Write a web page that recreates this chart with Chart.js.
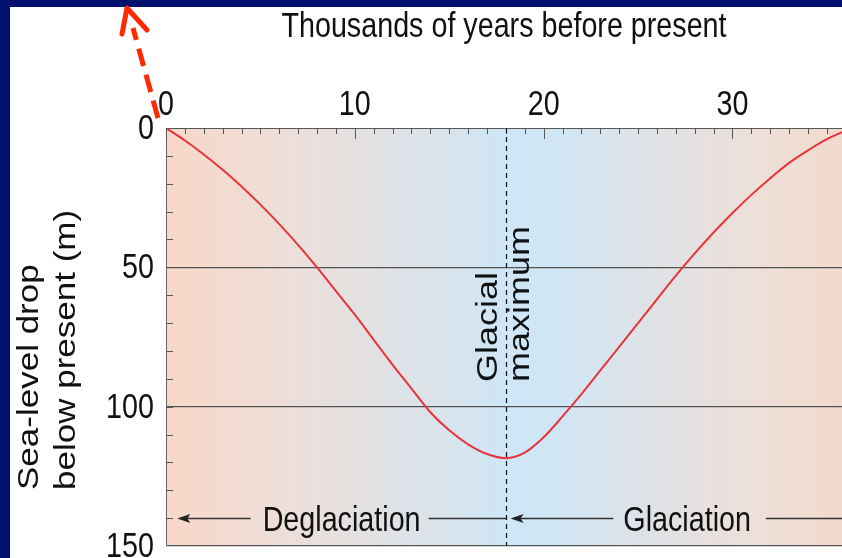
<!DOCTYPE html>
<html>
<head>
<meta charset="utf-8">
<script src="https://cdn.jsdelivr.net/npm/chart.js@4.4.1/dist/chart.umd.min.js"></script>
<style>
  html, body { margin: 0; padding: 0; background: #00106e; }
  #wrap { width: 842px; height: 558px; }
</style>
</head>
<body>
<div id="wrap"><canvas id="myChart" width="842" height="558"></canvas></div>
<script>
// thousands of years before present
const years = [0, 1, 2, 3, 4, 5, 6, 7, 8, 9, 10, 11, 12, 13, 14, 15, 16, 17, 18,
  19, 20, 21, 22, 23, 24, 25, 26, 27, 28, 29, 30, 31, 32, 33, 34, 35, 35.8];
// sea-level drop below present (m)
const seaDrop = [0, 4.5, 9.5, 15, 21, 27.5, 34.5, 42, 50, 58.5, 67, 76, 85, 93.5,
  102, 108.5, 113.5, 117, 118.5, 116.5, 111, 103.5, 95.5, 87, 78.5, 70, 61.5, 53,
  45, 37.5, 30.5, 24, 18, 12.5, 8, 4, 1.5];

const xTicks = [0, 10, 20, 30];
const yTicks = [0, 50, 100, 150];
const glacialMax = 18;
const arrowLevel = 140;

const fontFamily = '"Liberation Sans", Arial, sans-serif';
const squash = 0.82; // lettering in the original slide is squeezed horizontally

function flatText(ctx, text, x, y, size, align) {
  ctx.save();
  ctx.translate(x, y);
  ctx.scale(squash, 1);
  ctx.font = size + 'px ' + fontFamily;
  ctx.textAlign = align;
  ctx.textBaseline = 'alphabetic';
  ctx.fillStyle = '#111';
  ctx.fillText(text, 0, 0);
  ctx.restore();
}

function rotatedText(ctx, text, x, y, size) {
  ctx.save();
  ctx.translate(x, y);
  ctx.scale(squash, 1);
  ctx.rotate(-Math.PI / 2);
  ctx.font = size + 'px ' + fontFamily;
  ctx.textAlign = 'left';
  ctx.textBaseline = 'alphabetic';
  ctx.fillStyle = '#111';
  ctx.fillText(text, 0, 0);
  ctx.restore();
}

function arrowHead(ctx, x, y) {
  ctx.beginPath();
  ctx.moveTo(x, y);
  ctx.lineTo(x + 13, y - 4.5);
  ctx.lineTo(x + 10, y);
  ctx.lineTo(x + 13, y + 4.5);
  ctx.closePath();
  ctx.fill();
}

const slidePlugin = {
  id: 'slide',
  beforeDraw(chart) {
    const ctx = chart.ctx;
    const a = chart.chartArea;
    ctx.save();
    ctx.fillStyle = '#00106e';
    ctx.fillRect(0, 0, chart.width, chart.height);
    ctx.fillStyle = '#ffffff';
    ctx.fillRect(10, 7, chart.width - 10, chart.height - 7);
    const g = ctx.createLinearGradient(a.left, 0, a.right, 0);
    g.addColorStop(0, 'rgb(248,216,200)');
    g.addColorStop(0.2, 'rgb(236,223,219)');
    g.addColorStop(0.42, 'rgb(216,228,236)');
    g.addColorStop(0.5, 'rgb(206,230,246)');
    g.addColorStop(0.58, 'rgb(208,230,245)');
    g.addColorStop(0.72, 'rgb(224,226,230)');
    g.addColorStop(0.88, 'rgb(238,223,216)');
    g.addColorStop(1, 'rgb(242,218,204)');
    ctx.fillStyle = g;
    ctx.fillRect(a.left, a.top, a.right - a.left, a.bottom - a.top);
    ctx.restore();
  },
  afterDraw(chart) {
    const ctx = chart.ctx;
    const a = chart.chartArea;
    const xs = chart.scales.x;
    const ys = chart.scales.y;
    ctx.save();

    // inward tick marks
    ctx.strokeStyle = '#555';
    ctx.lineWidth = 1;
    ctx.beginPath();
    for (let v = 0; v <= xs.max; v += 1) {
      const px = Math.round(xs.getPixelForValue(v)) + 0.5;
      const len = v % 10 === 0 ? 11 : 6;
      ctx.moveTo(px, a.top);
      ctx.lineTo(px, a.top + len);
    }
    for (let v = 10; v < ys.max; v += 10) {
      const py = Math.round(ys.getPixelForValue(v)) + 0.5;
      ctx.moveTo(a.left, py);
      ctx.lineTo(a.left + 7, py);
    }
    ctx.stroke();

    // tick labels and axis titles
    xs.ticks.forEach(t => {
      flatText(ctx, String(t.value), xs.getPixelForValue(t.value), a.top - 13, 35, 'center');
    });
    ys.ticks.forEach(t => {
      flatText(ctx, String(t.value), a.left - 12, ys.getPixelForValue(t.value) + 11, 35, 'right');
    });
    flatText(ctx, 'Thousands of years before present', (a.left + a.right) / 2, 37, 35, 'center');
    rotatedText(ctx, 'Sea-level drop', 38, 490, 35);
    rotatedText(ctx, 'below present (m)', 75, 490, 35);

    // glacial maximum marker
    const gx = Math.round(xs.getPixelForValue(glacialMax)) + 0.5;
    ctx.strokeStyle = '#111';
    ctx.lineWidth = 1.2;
    ctx.setLineDash([5, 4]);
    ctx.beginPath();
    ctx.moveTo(gx, a.top);
    ctx.lineTo(gx, a.bottom);
    ctx.stroke();
    ctx.setLineDash([]);

    rotatedText(ctx, 'Glacial', gx - 10, 382, 36);
    rotatedText(ctx, 'maximum', gx + 22, 382, 36);

    // deglaciation / glaciation arrows
    const ay = Math.round(ys.getPixelForValue(arrowLevel)) + 0.5;
    ctx.font = '35px ' + fontFamily;
    const dx = xs.getPixelForValue(9.3);
    const dw = ctx.measureText('Deglaciation').width * squash;
    flatText(ctx, 'Deglaciation', dx, ay + 12, 35, 'center');
    const cx = xs.getPixelForValue(27.6);
    const cw = ctx.measureText('Glaciation').width * squash;
    flatText(ctx, 'Glaciation', cx, ay + 12, 35, 'center');

    ctx.strokeStyle = '#333';
    ctx.lineWidth = 1.4;
    ctx.beginPath();
    const tip1 = xs.getPixelForValue(0.6);
    ctx.moveTo(tip1 + 8, ay);
    ctx.lineTo(dx - dw / 2 - 12, ay);
    ctx.moveTo(dx + dw / 2 + 8, ay);
    ctx.lineTo(gx, ay);
    const tip2 = xs.getPixelForValue(glacialMax + 0.25);
    ctx.moveTo(tip2 + 8, ay);
    ctx.lineTo(cx - cw / 2 - 10, ay);
    ctx.moveTo(cx + cw / 2 + 15, ay);
    ctx.lineTo(a.right, ay);
    ctx.stroke();
    ctx.fillStyle = '#222';
    arrowHead(ctx, tip1, ay);
    arrowHead(ctx, tip2, ay);

    // red dashed pointer over the slide
    const sx0 = a.left - 8, sy0 = a.top - 10;
    const tx = a.left - 39, ty = a.top - 120;
    ctx.strokeStyle = '#ff2a00';
    ctx.lineWidth = 5;
    ctx.lineCap = 'butt';
    ctx.setLineDash([18, 9]);
    ctx.beginPath();
    ctx.moveTo(sx0, sy0);
    ctx.lineTo(tx + 6, ty + 20);
    ctx.stroke();
    ctx.setLineDash([]);
    ctx.lineCap = 'round';
    ctx.lineJoin = 'round';
    ctx.beginPath();
    ctx.moveTo(tx - 5, ty + 26);
    ctx.lineTo(tx, ty);
    ctx.lineTo(tx + 20, ty + 22);
    ctx.stroke();
    ctx.restore();
  }
};

const ctx = document.getElementById('myChart');
new Chart(ctx, {
  type: 'line',
  data: {
    datasets: [{
      label: 'Sea-level drop',
      data: years.map((x, i) => ({ x: x, y: seaDrop[i] })),
      borderColor: '#e8343b',
      borderWidth: 2,
      pointRadius: 0,
      cubicInterpolationMode: 'monotone',
      fill: false
    }]
  },
  options: {
    responsive: false,
    animation: false,
    layout: { padding: { left: 0, right: 0, top: 0, bottom: 12 } },
    plugins: {
      legend: { display: false },
      tooltip: { enabled: false }
    },
    scales: {
      x: {
        type: 'linear',
        position: 'top',
        min: 0,
        max: 35.8,
        afterBuildTicks: s => { s.ticks = xTicks.map(v => ({ value: v })); },
        afterFit: s => { s.height = 128; s.paddingLeft = 0; s.paddingRight = 0; },
        grid: { display: false, drawTicks: false },
        border: { display: true, color: '#555', width: 1 },
        ticks: { display: false },
        title: { display: false, text: 'Thousands of years before present' }
      },
      y: {
        type: 'linear',
        reverse: true,
        min: 0,
        max: 150,
        afterBuildTicks: s => { s.ticks = yTicks.map(v => ({ value: v })); },
        afterFit: s => { s.width = 166; s.paddingTop = 0; s.paddingBottom = 0; },
        grid: {
          drawTicks: false,
          color: c => (c.tick && c.tick.value === 0) ? 'rgba(0,0,0,0)' : '#555',
          lineWidth: 1.2
        },
        border: { display: true, color: '#666', width: 1 },
        ticks: { display: false },
        title: { display: false, text: 'Sea-level drop below present (m)' }
      }
    }
  },
  plugins: [slidePlugin]
});
</script>
</body>
</html>
